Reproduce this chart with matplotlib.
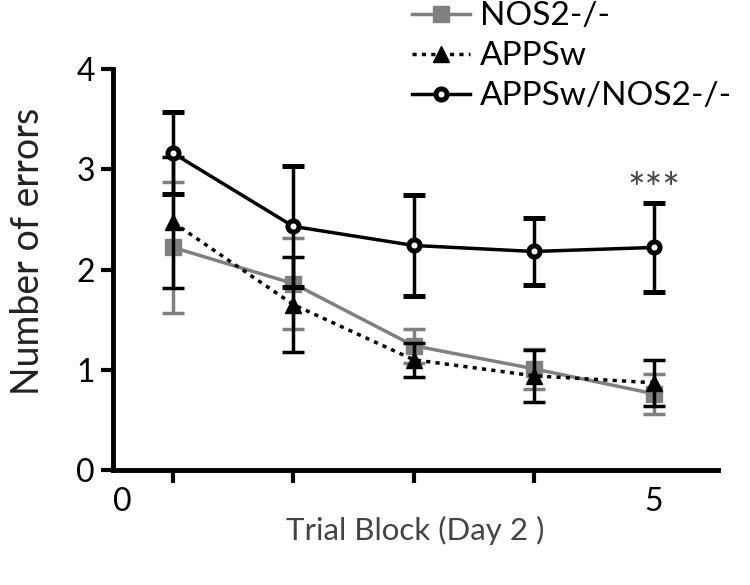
import matplotlib
matplotlib.use("Agg")
import matplotlib.pyplot as plt
from matplotlib.lines import Line2D
import numpy as np

plt.rcParams['font.family'] = ['Lato', 'DejaVu Sans']

x_pos = [0.5, 1.5, 2.5, 3.5, 4.5]
nos2 = [2.22, 1.86, 1.24, 1.01, 0.76]
nos2_err = [0.65, 0.45, 0.17, 0.20, 0.20]
appsw = [2.47, 1.65, 1.10, 0.94, 0.87]
appsw_err = [0.65, 0.47, 0.17, 0.26, 0.23]
dbl = [3.16, 2.43, 2.24, 2.18, 2.22]
dbl_err = [0.41, 0.60, 0.50, 0.33, 0.44]
labels = ["NOS2-/-", "APPSw", "APPSw/NOS2-/-"]

fig = plt.figure(figsize=(7.5, 5.85), dpi=100)
ax = fig.add_axes([0.1507, 0.1966, 0.957 - 0.1507, 0.882 - 0.1966])

gray = '#808080'
st1 = dict(color=gray, lw=2.5, marker='s', ms=11, mfc=gray, mec=gray)
st2 = dict(color='black', lw=2.5, ls=(0, (1.2, 1.5)), marker='^', ms=11, mfc='black', mec='black')
st3 = dict(color='black', lw=2.5, marker='o', ms=8, mfc='white', mec='black', mew=3.6)
eb = dict(capsize=8, capthick=2.5, elinewidth=2.5)
ax.errorbar(x_pos, nos2, yerr=nos2_err, zorder=2, **st1, **eb)
ax.errorbar(x_pos, appsw, yerr=appsw_err, zorder=3, **st2, **eb)
ax.errorbar(x_pos, dbl, yerr=dbl_err, zorder=4, **st3, **eb)

ax.text(x_pos[-1], 2.78, '***', ha='center', va='center', fontsize=30, color='#444444')

ax.set_xlim(0.0, 5.03)
ax.set_ylim(0, 4)
ax.spines['top'].set_visible(False)
ax.spines['right'].set_visible(False)
for s in ['left', 'bottom']:
    ax.spines[s].set_linewidth(3.5)

ax.set_yticks([0, 1, 2, 3, 4])
ax.set_yticklabels(['0', '1', '2', '3', '4'], fontsize=23)
ax.tick_params(axis='y', length=9, width=3, pad=4)

ax.set_xticks(x_pos, minor=True)
ax.tick_params(axis='x', which='minor', length=9, width=3, direction='out')
ax.set_xticks([0.08, 4.5])
ax.set_xticklabels(['0', '5'], fontsize=23)
ax.tick_params(axis='x', which='major', length=0, pad=12)

ax.set_xlabel('Trial Block (Day 2 )', fontsize=22.5, color='#444444')
ax.xaxis.set_label_coords(0.5, -0.15)
ax.xaxis.label.set_va('center')
ax.set_ylabel('Number of errors', fontsize=27, color='#222222')
ax.yaxis.set_label_coords(-0.14, 0.544)
ax.yaxis.label.set_va('center')

handles = [Line2D([], [], **st1), Line2D([], [], **st2), Line2D([], [], **st3)]
fig.legend(handles=handles, labels=labels, loc='upper left', bbox_to_anchor=(0.549, 0.998),
           frameon=False, fontsize=24, handlelength=1.75, handletextpad=0.3, labelspacing=0.3,
           borderpad=0, borderaxespad=0)

fig.savefig('out.png', dpi=100)
